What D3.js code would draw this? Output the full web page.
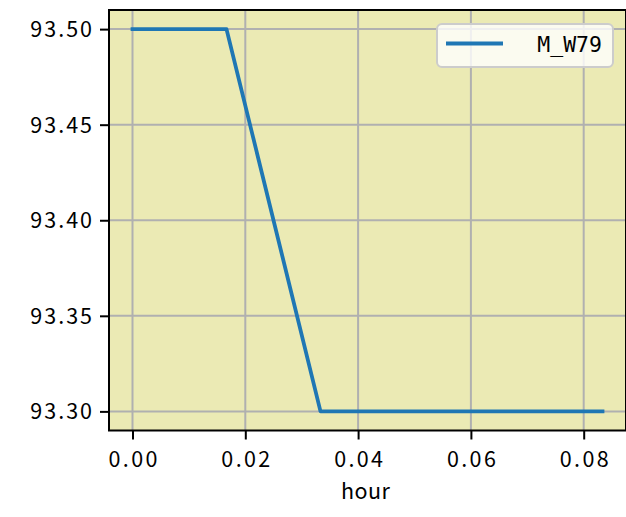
<!DOCTYPE html>
<html><head><meta charset="utf-8">
<script src="https://cdn.jsdelivr.net/npm/d3@7"></script>
<style>body{margin:0;background:#fff}svg{display:block}</style>
</head><body><svg id="c" width="626" height="517"></svg>
<script>
const hours = [0, 1/60, 2/60, 3/60, 4/60, 5/60];
const values = [93.5, 93.5, 93.3, 93.3, 93.3, 93.3];
const seriesName = "M_W79";
const xTicks = [0, 0.02, 0.04, 0.06, 0.08];
const yTicks = [93.30, 93.35, 93.40, 93.45, 93.50];
const xLabel = "hour";

const W = 626, H = 517;
const L = 109, R = 626, T = 10, B = 430.5;
const font = "'Noto Sans CJK SC', sans-serif";
const monoFont = "'DejaVu Sans Mono', monospace";
const fs = 21.5;
const adv = 12.85; // half-width cell advance
const svg = d3.select("#c");

function mono(sel) {
  sel.each(function() {
    const t = d3.select(this);
    const n = t.text().length;
    t.attr("textLength", n * adv - 2.5).attr("lengthAdjust", "spacing");
  });
}

const x = d3.scaleLinear().domain([-5/60*0.05, 5/60*1.05]).range([L, R]);
const y = d3.scaleLinear().domain([93.29, 93.51]).range([B, T]);

svg.append("rect").attr("x", L).attr("y", T).attr("width", R - L).attr("height", B - T).attr("fill", "#ebeab4");

// grid
const g = svg.append("g");
g.selectAll(".vx").data(xTicks).join("line")
  .attr("x1", d => x(d)).attr("x2", d => x(d)).attr("y1", T).attr("y2", B)
  .attr("stroke", "#b0b0b0").attr("stroke-width", 2);
g.selectAll(".hy").data(yTicks).join("line")
  .attr("y1", d => y(d)).attr("y2", d => y(d)).attr("x1", L).attr("x2", R)
  .attr("stroke", "#b0b0b0").attr("stroke-width", 2);

// line
const line = d3.line().x((d, i) => x(hours[i])).y(d => y(d));
svg.append("path").datum(values).attr("d", line).attr("fill", "none")
  .attr("stroke", "#1f77b4").attr("stroke-width", 3.8).attr("stroke-linejoin", "round").attr("stroke-linecap", "square");

// axes
const xAxis = d3.axisBottom(x).tickValues(xTicks).tickFormat(d3.format(".2f")).tickSizeInner(9).tickSizeOuter(0).tickPadding(8);
const yAxis = d3.axisLeft(y).tickValues(yTicks).tickFormat(d3.format(".2f")).tickSizeInner(9).tickSizeOuter(0).tickPadding(8);
const ax = svg.append("g").attr("transform", `translate(0,${B})`).call(xAxis);
const ay = svg.append("g").attr("transform", `translate(${L},0)`).call(yAxis);
[ax, ay].forEach(a => {
  a.select(".domain").remove();
  a.selectAll(".tick line").attr("stroke", "#000").attr("stroke-width", 2);
  a.selectAll(".tick text").attr("font-family", font).attr("font-size", fs).attr("fill", "#000").call(mono);
});
ax.selectAll(".tick text").attr("dy", "0.9em");
ay.selectAll(".tick text").attr("dy", "0.35em");

// spines
svg.append("rect").attr("x", L).attr("y", T).attr("width", R - L).attr("height", B - T)
  .attr("fill", "none").attr("stroke", "#000").attr("stroke-width", 2);

svg.append("text").attr("x", (L + R) / 2 - 2).attr("y", 499).attr("text-anchor", "middle")
  .attr("font-family", font).attr("font-size", fs).text(xLabel).call(mono);

// legend
const lg = svg.append("g");
lg.append("rect").attr("x", 437).attr("y", 24).attr("width", 176).attr("height", 43).attr("rx", 5)
  .attr("fill", "#fff").attr("fill-opacity", 0.8).attr("stroke", "#cccccc").attr("stroke-width", 2);
lg.append("line").attr("x1", 446).attr("x2", 503).attr("y1", 43.5).attr("y2", 43.5)
  .attr("stroke", "#1f77b4").attr("stroke-width", 3.8);
lg.append("text").attr("x", 602).attr("y", 51.5).attr("text-anchor", "end")
  .attr("font-family", monoFont).attr("font-size", fs).text(seriesName);
</script></body></html>
